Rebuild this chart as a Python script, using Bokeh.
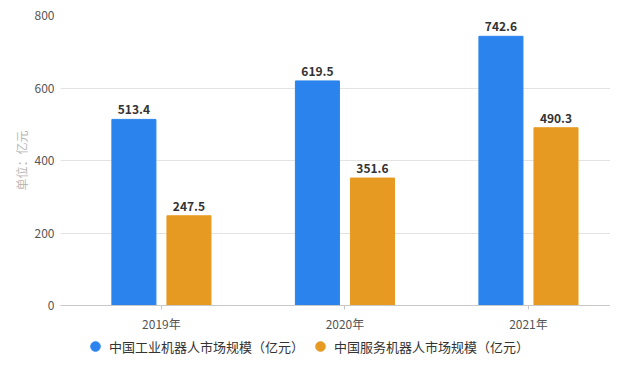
from bokeh.plotting import figure
from bokeh.models import (ColumnDataSource, Range1d, FixedTicker, LabelSet,
                          Legend, LegendItem)
from bokeh.layouts import column
from bokeh.core.properties import value
from bokeh.transform import dodge
from bokeh.embed import file_html
from bokeh.resources import INLINE

years = ["2019年", "2020年", "2021年"]
industrial = [513.4, 619.5, 742.6]
service = [247.5, 351.6, 490.3]
series_names = ["中国工业机器人市场规模（亿元）", "中国服务机器人市场规模（亿元）"]
y_ticks = [0, 200, 400, 600, 800]

BLUE = "#2b84ee"
ORANGE = "#e79a22"
FONT = "Noto Sans CJK SC"

idx = [i + 0.5 for i in range(len(years))]
src1 = ColumnDataSource(dict(x=idx, top=industrial, lab=[f"{v:.1f}" for v in industrial]))
src2 = ColumnDataSource(dict(x=idx, top=service, lab=[f"{v:.1f}" for v in service]))

p = figure(width=610, height=334, output_backend="svg", toolbar_location=None,
           x_range=Range1d(-0.05, 2.947), y_range=Range1d(0, 800),
           min_border_left=60, min_border_right=0, min_border_top=15,
           min_border_bottom=28)
p.outline_line_color = None
p.background_fill_color = "white"
p.border_fill_color = "white"

bw = 0.24
off = 0.15
p.vbar(x=dodge("x", -off), top="top", width=bw, source=src1,
       fill_color=BLUE, line_color=BLUE)
p.vbar(x=dodge("x", off), top="top", width=bw, source=src2,
       fill_color=ORANGE, line_color=ORANGE)

for src, o in ((src1, -off), (src2, off)):
    p.add_layout(LabelSet(x=dodge("x", o), y="top", text="lab", source=src,
                          text_align="center", text_baseline="bottom",
                          y_offset=5, text_font_size="12px",
                          text_font_style="bold", text_color="#333333",
                          text_font=value(FONT)))

# axes
p.xaxis.ticker = FixedTicker(ticks=idx)
p.xaxis.major_label_overrides = {v: y for v, y in zip(idx, years)}
p.xaxis.axis_line_color = "#c8c8c8"
p.xaxis.major_tick_line_color = "#c8c8c8"
p.xaxis.major_tick_out = 4
p.xaxis.major_tick_in = 0
p.xaxis.minor_tick_line_color = None
p.xaxis.major_label_text_font = FONT
p.xaxis.major_label_text_font_size = "12px"
p.xaxis.major_label_text_color = "#555555"
p.xaxis.major_label_standoff = 5

p.yaxis.ticker = FixedTicker(ticks=y_ticks)
p.yaxis.axis_line_color = None
p.yaxis.major_tick_line_color = None
p.yaxis.minor_tick_line_color = None
p.yaxis.major_tick_out = 0
p.yaxis.major_tick_in = 0
p.yaxis.major_label_text_font = FONT
p.yaxis.major_label_text_font_size = "12px"
p.yaxis.major_label_text_color = "#555555"
p.yaxis.major_label_standoff = 6
p.yaxis.axis_label = "单位：亿元"
p.yaxis.axis_label_text_font = FONT
p.yaxis.axis_label_text_font_size = "12px"
p.yaxis.axis_label_text_font_style = "normal"
p.yaxis.axis_label_text_color = "#b8b8b8"
p.yaxis.axis_label_standoff = 2

p.xgrid.grid_line_color = None
p.ygrid.grid_line_color = "#e3e3e3"
p.ygrid.ticker = FixedTicker(ticks=y_ticks)

# legend strip (markers placed outside the visible range; only the legend shows)
lg = figure(width=610, height=24, output_backend="svg", toolbar_location=None,
            x_range=Range1d(0, 1), y_range=Range1d(0, 1),
            x_axis_location=None, y_axis_location=None,
            min_border_left=0, min_border_right=0, min_border_top=0,
            min_border_bottom=0)
lg.outline_line_color = None
lg.xgrid.grid_line_color = None
lg.ygrid.grid_line_color = None
e1 = lg.scatter(x=[-9], y=[-9], marker="circle", size=10, fill_color=BLUE, line_color=BLUE)
e2 = lg.scatter(x=[-9], y=[-9], marker="circle", size=10, fill_color=ORANGE, line_color=ORANGE)
legend = Legend(items=[LegendItem(label=series_names[0], renderers=[e1]),
                       LegendItem(label=series_names[1], renderers=[e2])],
                orientation="horizontal", location=(23, 0),
                label_text_font=FONT, label_text_font_size="13px",
                label_text_color="#333333", glyph_width=24, glyph_height=24,
                label_standoff=2, spacing=4, padding=0, margin=0,
                border_line_color=None, background_fill_alpha=0)
lg.add_layout(legend, "center")

layout = column(p, lg, spacing=0)
open("out.html", "w").write(file_html(layout, INLINE))
